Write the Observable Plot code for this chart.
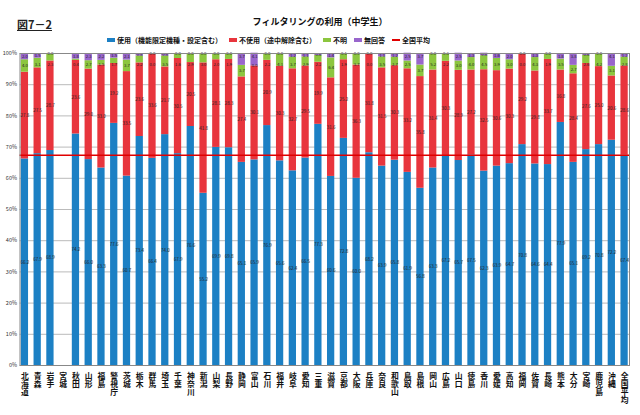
<!DOCTYPE html>
<html><head><meta charset="utf-8">
<script src="https://cdn.jsdelivr.net/npm/d3@7"></script>
<script src="https://cdn.jsdelivr.net/npm/@observablehq/plot@0.6"></script>
<style>
body{margin:0;background:#fff;font-family:"Noto Sans CJK JP","Noto Sans",sans-serif;}
#wrap{position:relative;width:640px;height:415px;overflow:hidden;}
#head{position:relative;height:48px;}
.fig{position:absolute;left:17px;top:18px;font-size:11px;line-height:13px;font-weight:bold;text-decoration:underline;color:#222;}
.title{position:absolute;left:0;width:640px;top:16px;line-height:12px;text-align:center;font-size:9px;font-weight:bold;color:#111;}
.legend{position:absolute;left:107px;top:35px;line-height:10px;font-size:7px;font-weight:bold;color:#111;white-space:nowrap;display:flex;align-items:center;}
.sw{display:inline-block;width:8px;height:3.5px;margin-right:2px;}
.ln{display:inline-block;width:8px;height:1.5px;background:#e00000;margin-right:2px;}
.item{display:inline-flex;align-items:center;margin-right:7px;}
</style></head>
<body><div id="wrap">
<div id="head">
<div class="fig">図7－2</div>
<div class="title">フィルタリングの利用（中学生）</div>
<div class="legend" id="legend"></div>
</div>
<div id="chart"></div>
</div>
<script>
const prefs = ["北海道","青森","岩手","宮城","秋田","山形","福島","警視庁","茨城","栃木","群馬","埼玉","千葉","神奈川","新潟","山梨","長野","静岡","富山","石川","福井","岐阜","愛知","三重","滋賀","京都","大阪","兵庫","奈良","和歌山","鳥取","島根","岡山","広島","山口","徳島","香川","愛媛","高知","福岡","佐賀","長崎","熊本","大分","宮崎","鹿児島","沖縄","全国平均"];
const series = ["使用（機能限定機種・設定含む）","不使用（途中解除含む）","不明","無回答"];
const colors = ["#1c80c4","#e8353d","#8cc63f","#9966cc"];
const used = [66.2,67.9,68.9,null,74.2,66.0,63.3,77.6,60.7,73.4,66.4,74.0,67.9,76.6,55.2,69.9,69.8,65.1,65.9,76.9,65.6,62.4,66.5,77.3,60.6,72.8,60.0,68.2,63.9,65.8,61.9,56.8,63.3,67.2,65.7,67.5,62.3,63.9,64.7,70.8,64.6,64.4,77.9,65.1,69.2,70.8,72.2,67.4];
const notUsed = [27.8,27.5,28.7,null,23.6,29.0,33.0,19.2,33.5,23.6,33.6,21.7,30.5,20.5,41.8,28.1,28.3,27.4,30.1,20.9,30.3,32.7,29.5,19.9,31.6,25.2,36.3,31.8,31.5,30.3,33.2,35.8,31.4,30.3,28.9,27.2,32.5,30.6,30.3,29.2,29.8,33.7,16.8,28.4,27.6,25.0,20.6,28.6];
const unknown = [4.0,3.1,2.3,null,0.4,2.7,1.5,1.7,3.7,2.2,0.0,3.5,1.6,2.9,3.0,2.0,1.9,3.7,0.0,2.2,4.1,3.7,2.9,2.2,6.4,1.9,3.7,0.0,3.5,2.7,2.5,3.7,5.2,2.2,3.0,4.0,4.5,3.9,3.0,0.0,4.3,1.9,3.5,2.7,2.6,4.2,3.1,2.8];
const noAnswer = [2.0,1.5,0.0,null,1.8,2.3,2.2,1.5,2.1,0.8,0.0,0.8,0.0,0.0,0.0,0.0,0.0,3.7,4.1,0.0,0.0,1.2,1.1,0.6,1.4,0.1,0.0,0.0,1.1,1.2,2.5,3.7,0.0,0.3,2.5,1.3,0.8,1.6,2.0,0.0,1.3,0.0,1.8,3.8,0.6,0.0,4.1,1.2];
const nationalAvg = 67.4;
const yTicks = [0,10,20,30,40,50,60,70,80,90,100];

const cols = [used, notUsed, unknown, noAnswer];
const data = [];
const smallLabels = [];
prefs.forEach((p, i) => {
  cols.forEach((c, j) => {
    if (c[i] != null) data.push({pref: p, series: series[j], value: c[i]});
  });
  if (used[i] != null) {
    const base = used[i] + notUsed[i];
    smallLabels.push({pref: p, pos: Math.min(base + unknown[i] / 2, 96.3), value: unknown[i]});
    smallLabels.push({pref: p, pos: Math.max(base + unknown[i] + noAnswer[i] / 2, 99.0), value: noAnswer[i]});
  }
});
const bigData = data.filter(d => d.series === series[0] || d.series === series[1]);

// legend
const lg = document.getElementById("legend");
series.forEach((s, j) => {
  const it = document.createElement("span"); it.className = "item";
  it.innerHTML = `<span class="sw" style="background:${colors[j]}"></span>${s}`;
  lg.appendChild(it);
});
const it = document.createElement("span"); it.className = "item";
it.innerHTML = `<span class="ln"></span>全国平均`;
lg.appendChild(it);

const chart = Plot.plot({
  width: 640,
  height: 367,
  marginTop: 5,
  marginBottom: 50,
  marginLeft: 19.5,
  marginRight: 11,
  style: {fontFamily: "'Noto Sans CJK JP', sans-serif", background: "#fff"},
  x: {domain: prefs, paddingInner: 0.43, paddingOuter: 0.1, label: null, axis: null},
  y: {domain: [0, 100], label: null},
  color: {domain: series, range: colors},
  marks: [
    Plot.gridY(yTicks, {stroke: "#bbbbbb", strokeOpacity: 1}),
    Plot.barY(data, {x: "pref", y: "value", fill: "series", order: series}),
    Plot.text(bigData, Plot.stackY({x: "pref", y: "value", z: "series", order: series, text: d => d.value.toFixed(1), fontSize: 4.5, fill: "#222"})),
    Plot.text(smallLabels, {x: "pref", y: "pos", text: d => d.value.toFixed(1), fontSize: 4.2, fill: "#222"}),
    Plot.ruleY([nationalAvg], {stroke: "#e00000", strokeWidth: 1.5}),
    Plot.frame({stroke: "#888"}),
    Plot.axisY(yTicks, {tickSize: 0, tickPadding: 3, tickFormat: d => d + "%", fontSize: 5.5, fill: "#333"}),
    // category labels, written vertically (tategaki)
    Plot.text(prefs, {x: d => d, text: d => d, frameAnchor: "bottom", dy: 7, textAnchor: "start",
      fontSize: 7.8, fontWeight: "bold", fill: "#111"})
  ]
});
const prefSet = new Set(prefs);
chart.querySelectorAll("text").forEach(t => {
  if (prefSet.has(t.textContent)) {
    t.style.writingMode = "vertical-rl";
    t.style.textOrientation = "upright";
    t.removeAttribute("dy");
  }
});
document.getElementById("chart").appendChild(chart);
</script>
</body></html>
